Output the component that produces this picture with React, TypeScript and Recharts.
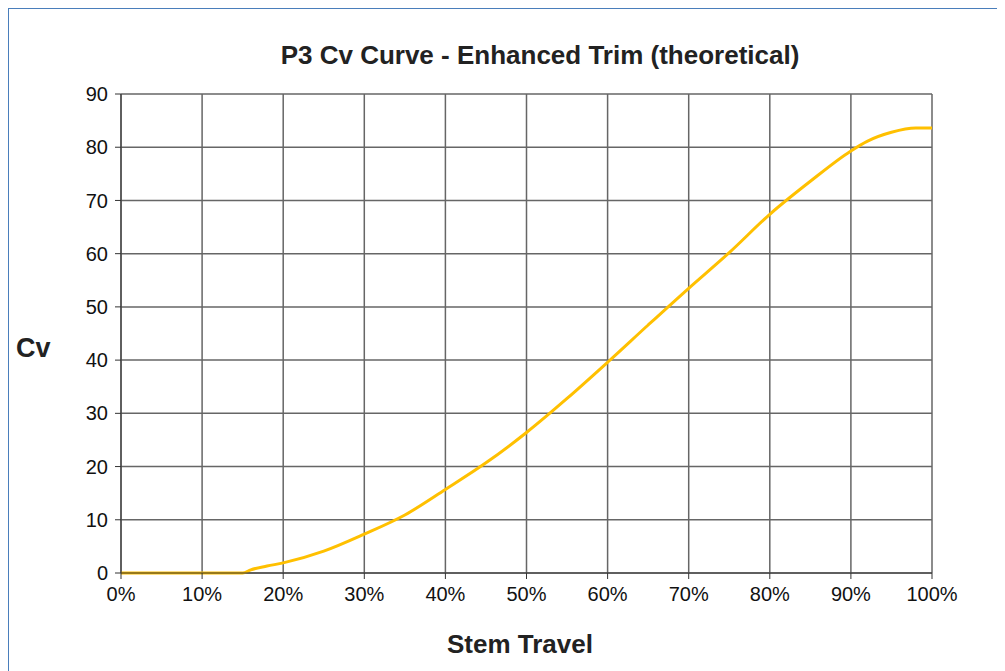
import React from "react";
import { LineChart, Line, XAxis, YAxis, CartesianGrid } from "recharts";

const travelPct = [0, 5, 10, 15, 16, 18, 20, 25, 30, 35, 40, 45, 50, 55, 60, 65, 70, 75, 80, 85, 90, 92, 95, 98, 100];
const cvValues = [0, 0, 0, 0, 0.6, 1.3, 1.9, 4.1, 7.3, 10.9, 15.7, 20.7, 26.4, 32.8, 39.6, 46.6, 53.5, 60.2, 67.4, 73.6, 79.3, 81.1, 82.8, 83.6, 83.6];
const xTicks = [0, 10, 20, 30, 40, 50, 60, 70, 80, 90, 100];
const yTicks = [0, 10, 20, 30, 40, 50, 60, 70, 80, 90];

const data = travelPct.map((t, i) => ({ t, cv: cvValues[i] }));

const font = "'Liberation Sans', Arial, sans-serif";

export default function App() {
  return (
    <div
      style={{
        position: "relative",
        width: 996,
        height: 662,
        borderTop: "1px solid #4a7ebb",
        borderLeft: "1px solid #4a7ebb",
        fontFamily: font,
      }}
    >
      <div style={{ position: "absolute", left: 0, width: 1062, top: 31, textAlign: "center", fontSize: 26, fontWeight: "bold", color: "#222" }}>
        P3 Cv Curve - Enhanced Trim (theoretical)
      </div>
      <div style={{ position: "absolute", left: 7, top: 324, fontSize: 27, fontWeight: "bold", color: "#222" }}>Cv</div>
      <div style={{ position: "absolute", left: 0, width: 1022, top: 620, textAlign: "center", fontSize: 26, fontWeight: "bold", color: "#222" }}>
        Stem Travel
      </div>
      <LineChart width={996} height={662} data={data} margin={{ top: 85, right: 73, left: 52, bottom: 68 }}>
        <CartesianGrid stroke="#666" strokeWidth={1.5} />
        <XAxis
          dataKey="t"
          type="number"
          domain={[0, 100]}
          ticks={xTicks}
          tickFormatter={(v) => `${v}%`}
          height={30}
          stroke="#333"
          tickSize={6}
          tick={{ fill: "#111", fontSize: 20, fontFamily: font }}
          tickMargin={8}
        />
        <YAxis
          type="number"
          domain={[0, 90]}
          ticks={yTicks}
          width={60}
          stroke="#333"
          tickSize={6}
          tick={{ fill: "#111", fontSize: 20, fontFamily: font }}
          tickMargin={7}
        />
        <Line type="monotone" dataKey="cv" stroke="#FFC000" strokeWidth={3} dot={false} isAnimationActive={false} />
      </LineChart>
    </div>
  );
}
